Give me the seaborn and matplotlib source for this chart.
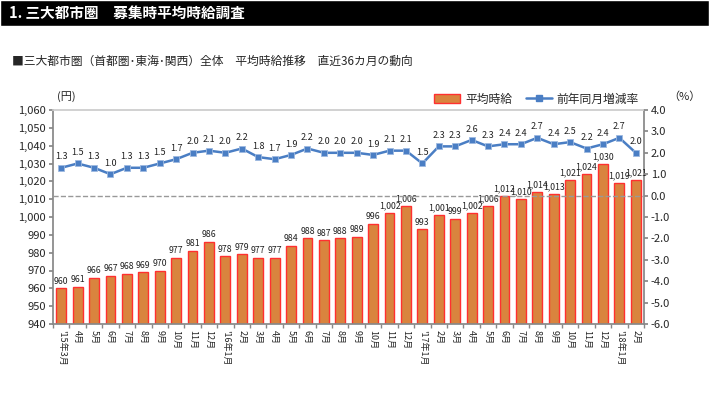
import numpy as np
import pandas as pd
import seaborn as sns
import matplotlib.pyplot as plt
from matplotlib.patches import Rectangle, Patch
from matplotlib.lines import Line2D
from matplotlib.ticker import FuncFormatter

months = ["'15年3月", "4月", "5月", "6月", "7月", "8月", "9月", "10月", "11月", "12月",
          "'16年1月", "2月", "3月", "4月", "5月", "6月", "7月", "8月", "9月", "10月", "11月", "12月",
          "'17年1月", "2月", "3月", "4月", "5月", "6月", "7月", "8月", "9月", "10月", "11月", "12月",
          "'18年1月", "2月"]
wage = [960, 961, 966, 967, 968, 969, 970, 977, 981, 986, 978, 979, 977, 977, 984, 988,
        987, 988, 989, 996, 1002, 1006, 993, 1001, 999, 1002, 1006, 1012, 1010, 1014,
        1013, 1021, 1024, 1030, 1019, 1021]
rate = [1.3, 1.5, 1.3, 1.0, 1.3, 1.3, 1.5, 1.7, 2.0, 2.1, 2.0, 2.2, 1.8, 1.7, 1.9, 2.2,
        2.0, 2.0, 2.0, 1.9, 2.1, 2.1, 1.5, 2.3, 2.3, 2.6, 2.3, 2.4, 2.4, 2.7, 2.4, 2.5,
        2.2, 2.4, 2.7, 2.0]

df = pd.DataFrame({'月': months, '平均時給': wage, '前年同月増減率': rate})
df['pos'] = np.arange(len(df))

sns.set_theme(style="white")
plt.rcParams['font.family'] = ['Noto Sans CJK JP', 'DejaVu Sans']

bar_color = '#D9843E'
edge_color = '#FF3030'
line_color = '#4A7EC4'

fig = plt.figure(figsize=(7.09, 3.98), dpi=100)

# header bar
fig.patches.append(Rectangle((0, 1 - 26 / 398), 1, 26 / 398, transform=fig.transFigure,
                             facecolor='black', zorder=0))
fig.text(0.012, 1 - 13 / 398, '1. 三大都市圏　募集時平均時給調査', color='white',
         fontsize=10.5, fontweight='bold', va='center')
fig.text(0.017, 1 - 61 / 398, '■三大都市圏（首都圏･東海･関西）全体　平均時給推移　直近36カ月の動向',
         fontsize=8.5, va='center')

ax = fig.add_axes([53 / 709, 1 - 324 / 398, 591 / 709, 214 / 398])
sns.barplot(data=df, x='pos', y='平均時給', color=bar_color, width=0.6,
            edgecolor=edge_color, linewidth=1, saturation=1, ax=ax)
ax.set_ylim(940, 1060)
ax.set_yticks(np.arange(940, 1061, 10))
ax.yaxis.set_major_formatter(FuncFormatter(lambda v, p: f'{int(v):,}'))
ax.set_xlim(-0.5, len(df) - 0.5)
ax.set_xticks(df['pos'])
ax.set_xticklabels(months, rotation=270, fontsize=6.5)
ax.set_xticks(np.arange(-0.5, len(df), 1), minor=True)
ax.tick_params(axis='x', which='major', length=0, pad=4)
ax.tick_params(axis='x', which='minor', length=3, color='#888888', direction='out')
ax.tick_params(axis='y', length=3, color='#888888', direction='out', labelsize=8, pad=2)
ax.yaxis.set_tick_params(left=True)
ax.xaxis.set_tick_params(which='minor', bottom=True)
ax.set_xlabel('')
ax.set_ylabel('')
for s in ['left', 'bottom', 'right']:
    ax.spines[s].set_color('#888888')
ax.spines['top'].set_color('#cccccc')

for x, v in zip(df['pos'], wage):
    ax.text(x, v + 1.5, f'{v:,}', ha='center', va='bottom', fontsize=6.3, color='#222222')

ax2 = ax.twinx()
sns.lineplot(data=df, x='pos', y='前年同月増減率', color=line_color, linewidth=1.8,
             marker='s', markersize=5, markeredgecolor='#9DB9E0', markeredgewidth=0.6, ax=ax2)
ax2.set_ylim(-6, 4)
ax2.set_yticks(np.arange(-6, 4.1, 1))
ax2.yaxis.set_major_formatter(FuncFormatter(lambda v, p: f'{v:.1f}'))
ax2.tick_params(axis='y', length=3, color='#888888', direction='out', labelsize=8, pad=2)
ax2.yaxis.set_tick_params(right=True)
ax2.axhline(0, color='#999999', linestyle='--', linewidth=1)
ax2.set_ylabel('')
ax2.set_xlabel('')
ax2.set_xlim(-0.5, len(df) - 0.5)
for s in ax2.spines.values():
    s.set_visible(False)

for x, v in zip(df['pos'], rate):
    ax2.text(x, v + 0.3, f'{v:.1f}', ha='center', va='bottom', fontsize=6.5, color='#222222')

fig.text(53 / 709 + 0.005, 1 - 97 / 398, '(円)', fontsize=8, va='center')
fig.text(668 / 709, 1 - 97 / 398, '（%）', fontsize=8, va='center')

handles = [Patch(facecolor=bar_color, edgecolor=edge_color, label='平均時給'),
           Line2D([0], [0], color=line_color, marker='s', markersize=4, linewidth=1.8,
                  label='前年同月増減率')]
fig.legend(handles=handles, loc='center right', bbox_to_anchor=(645 / 709, 1 - 99 / 398),
           ncol=2, frameon=False, fontsize=8.5, handlelength=2.2, columnspacing=1.2,
           handletextpad=0.4, borderpad=0)

fig.savefig('out.png', dpi=100)
